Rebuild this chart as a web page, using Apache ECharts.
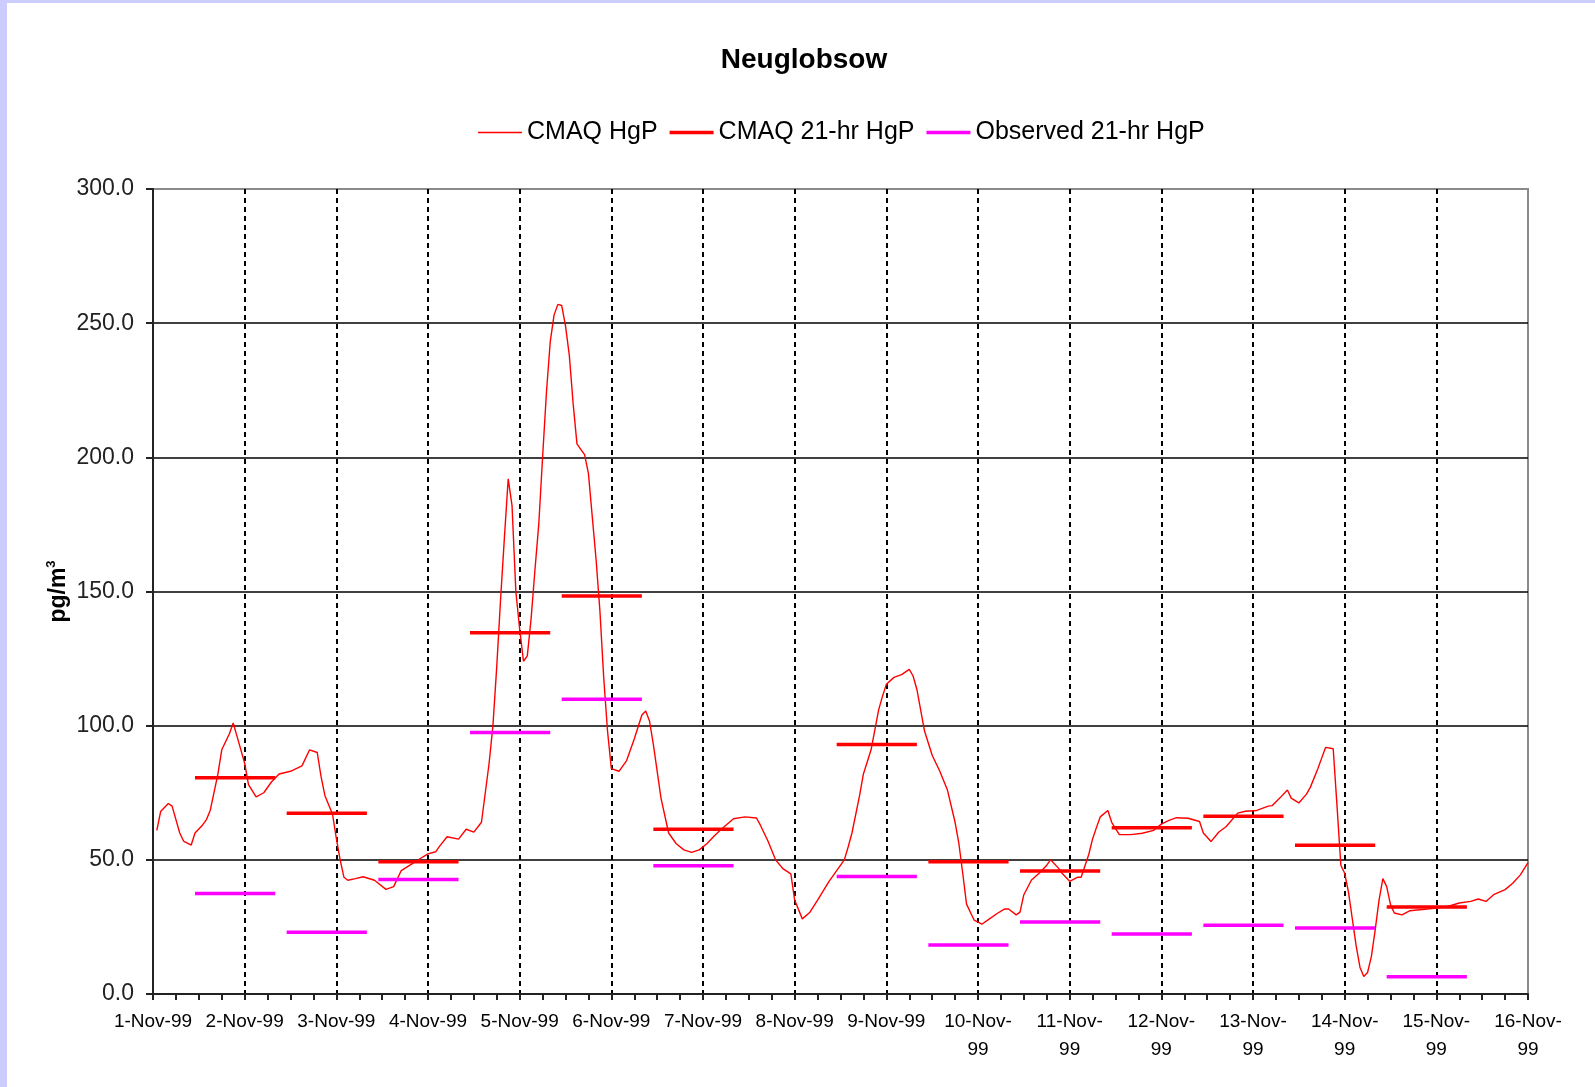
<!DOCTYPE html>
<html>
<head>
<meta charset="utf-8">
<script src="https://cdn.jsdelivr.net/npm/echarts@6/dist/echarts.min.js"></script>
<style>
	html, body { margin: 0; padding: 0; background: #fff; }
	#chart { width: 1595px; height: 1087px; }
</style>
</head>
<body>
<div id="chart"></div>
<script>
// x axis: hours from 1-Nov-99 00:00, one label per day
var dayLabels = ['1-Nov-99', '2-Nov-99', '3-Nov-99', '4-Nov-99', '5-Nov-99', '6-Nov-99', '7-Nov-99', '8-Nov-99',
	'9-Nov-99', '10-Nov-99', '11-Nov-99', '12-Nov-99', '13-Nov-99', '14-Nov-99', '15-Nov-99', '16-Nov-99'];

// CMAQ HgP, hourly model output
var cmaqHours = [1, 2, 4, 5, 7, 8, 10, 11, 13, 14, 15, 17, 18, 20, 21, 22, 24, 25, 27, 29, 31, 33, 36, 39, 41, 43,
	44, 45, 47, 48, 49, 50, 51, 53, 55, 58, 61, 63, 65, 68, 70, 72, 74, 75, 77, 80, 82, 84, 86, 87, 88, 89, 90, 91,
	92, 93, 94, 95, 96, 97, 98, 99, 100, 101, 102, 103, 104, 105, 106, 107, 108, 109, 110, 111, 112, 113, 114, 115,
	116, 117, 118, 119, 120, 122, 124, 126, 128, 129, 130, 131, 133, 135, 137, 139, 141, 143, 145, 147, 149, 152,
	155, 158, 159, 161, 163, 165, 167, 168, 170, 172, 174, 177, 179, 181, 182, 183, 185, 186, 188, 190, 191, 192,
	194, 196, 198, 199, 200, 202, 204, 206, 208, 210, 211, 212, 213, 215, 217, 219, 221, 223, 224, 226, 227, 228,
	230, 232, 234, 235, 237, 238, 240, 242, 243, 245, 246, 247, 248, 250, 251, 253, 256, 259, 262, 264, 266, 268,
	271, 274, 275, 277, 279, 281, 284, 286, 289, 292, 293, 295, 297, 298, 300, 302, 303, 305, 306, 307, 309, 310,
	311, 312, 313, 314, 315, 316, 317, 318, 319, 320, 321, 322, 323, 324, 325, 327, 329, 333, 336, 339, 342, 345,
	347, 349, 351, 354, 356, 358, 360];
var cmaqHgP = [61, 68, 71, 70, 60, 57, 55.5, 60, 63, 65, 68.5, 82, 91, 97, 101, 96, 86, 78, 73.5, 75, 79, 82, 83, 85,
	91, 90, 81, 74, 67, 58, 50, 43.5, 42.4, 43, 43.7, 42.4, 39, 40, 46, 48.7, 50.5, 52.2, 53, 55, 58.6, 57.7, 61.4,
	60.3, 64, 75, 86, 100, 122, 147, 170, 192, 182, 150, 136, 124, 126, 140, 158, 175, 200, 224, 243, 253, 257,
	256.6, 249, 238, 220, 205, 203, 201, 194, 178, 162, 143, 118, 98, 84, 83, 87, 95, 104, 105.5, 101.7, 93, 73, 60,
	56, 53.7, 52.8, 53.7, 56, 59, 61.7, 65.3, 66, 65.6, 63, 57, 50, 46.6, 44.8, 35, 28, 30.5, 35, 42, 46, 50, 54.8,
	60, 74, 82, 91, 106, 111, 115.4, 118, 119, 121, 118.5, 113.5, 98, 89, 83, 76, 64, 56, 45, 33.5, 27.5, 26, 28, 30,
	31.7, 31.7, 29.5, 30.5, 37, 42.5, 45, 48, 50, 47, 45, 42, 43.5, 43.5, 52, 57.8, 62, 66, 68.4, 64, 59.4, 59.4,
	59.9, 61, 63.3, 64.7, 65.7, 65.5, 64.3, 60, 56.8, 60.3, 62.4, 67.4, 68.1, 68.4, 70, 70.2, 73, 76, 73, 71.2, 74.5,
	77, 84, 88, 91.9, 91.4, 70, 48, 45, 38, 28, 18, 10, 6.5, 8, 14, 24, 35, 43, 40, 33.3, 30.2, 29.5, 31, 31.6, 32,
	32.6, 33.9, 34.5, 35.4, 34.5, 37, 38.9, 41.3, 44.4, 49];

// 21-hr sampling periods: start hour of each, and the averages
var periodStart = [11, 35, 59, 83, 107, 131, 179, 203, 227, 251, 275, 299, 323];
var periodLength = 21;
var cmaq21hr = [80.6, 67.4, 49.3, 134.6, 148.3, 61.4, 93.0, 49.3, 45.8, 62.0, 66.2, 55.4, 32.4];
var observed21hr = [37.5, 23.0, 42.7, 97.5, 109.8, 47.8, 43.8, 18.3, 26.8, 22.4, 25.6, 24.6, 6.4];

var FONT = "'Liberation Sans', Arial, sans-serif";
var THIN_ICON = 'path://M0,0H44V1.4H0Z';
var THICK_ICON = 'path://M0,0H44V3.5H0Z';

function hourlyData(hours, values) {
	var out = [];
	for (var i = 0; i < hours.length; i++) {
		out.push([hours[i], values[i]]);
	}
	return out;
}

// each period as a flat segment, broken apart with '-'
function periodData(starts, values) {
	var out = [];
	for (var i = 0; i < starts.length; i++) {
		out.push([starts[i], values[i]]);
		out.push([starts[i] + periodLength, values[i]]);
		out.push([starts[i] + periodLength, '-']);
	}
	return out;
}

function dayLabel(v) {
	var txt = dayLabels[Math.round(v / 24)] || '';
	if (txt.length > 8) {
		return txt.replace('Nov-', 'Nov-\n');
	}
	return txt;
}

var myChart = echarts.init(document.getElementById('chart'));
myChart.setOption({
	backgroundColor: '#fff',
	animation: false,
	graphic: [{
			type: 'rect',
			shape: { x: 0, y: 0, width: 7, height: 1087 },
			style: { fill: '#ccccff' }
		},
		{
			type: 'rect',
			shape: { x: 0, y: 0, width: 1595, height: 3 },
			style: { fill: '#ccccff' }
		}
	],
	title: {
		text: 'Neuglobsow',
		left: 804,
		top: 46,
		padding: 0,
		textAlign: 'center',
		textStyle: {
			fontFamily: FONT,
			fontSize: 28,
			fontWeight: 'bold',
			color: '#000'
		}
	},
	legend: {
		top: 120,
		left: 478,
		padding: 0,
		itemGap: 12,
		itemWidth: 44,
		itemHeight: 14,
		textStyle: {
			fontFamily: FONT,
			fontSize: 25,
			color: '#000'
		},
		data: [
			{ name: 'CMAQ HgP', icon: THIN_ICON },
			{ name: 'CMAQ 21-hr HgP', icon: THICK_ICON },
			{ name: 'Observed 21-hr HgP', icon: THICK_ICON }
		]
	},
	grid: {
		left: 153,
		right: 67,
		top: 189,
		bottom: 93,
		show: true,
		borderColor: '#8a8a8a',
		borderWidth: 2,
		backgroundColor: 'transparent'
	},
	xAxis: {
		type: 'value',
		min: 0,
		max: 360,
		interval: 24,
		axisLine: {
			show: true,
			onZero: false,
			lineStyle: { color: '#222', width: 2 }
		},
		axisTick: {
			show: true,
			length: 6,
			lineStyle: { color: '#222', width: 2 }
		},
		minorTick: {
			show: true,
			splitNumber: 4,
			length: 6,
			lineStyle: { color: '#222', width: 2 }
		},
		splitLine: {
			show: true,
			showMinLine: false,
			showMaxLine: false,
			lineStyle: { color: '#000', width: 2, type: [5, 4] }
		},
		axisLabel: {
			fontFamily: FONT,
			fontSize: 19,
			color: '#000',
			margin: 14,
			lineHeight: 28,
			showMaxLabel: true,
			formatter: dayLabel
		}
	},
	yAxis: {
		type: 'value',
		min: 0,
		max: 300,
		interval: 50,
		name: '{b|pg/m}{s|3}',
		nameLocation: 'middle',
		nameRotate: 90,
		nameGap: 80,
		nameMoveOverlap: false,
		nameTextStyle: {
			rich: {
				b: { fontFamily: FONT, fontSize: 23, fontWeight: 'bold', color: '#000', lineHeight: 28 },
				s: { fontFamily: FONT, fontSize: 13, fontWeight: 'bold', color: '#000', verticalAlign: 'top', lineHeight: 28 }
			}
		},
		axisLine: {
			show: true,
			lineStyle: { color: '#222', width: 2 }
		},
		axisTick: {
			show: true,
			length: 7,
			lineStyle: { color: '#222', width: 2 }
		},
		splitLine: {
			show: true,
			showMinLine: false,
			showMaxLine: false,
			lineStyle: { color: '#000', width: 1.5 }
		},
		axisLabel: {
			fontFamily: FONT,
			fontSize: 23,
			color: '#222',
			margin: 19,
			formatter: function (v) {
				return v.toFixed(1);
			}
		}
	},
	series: [{
			name: 'CMAQ HgP',
			type: 'line',
			showSymbol: false,
			symbol: 'none',
			color: '#ff0000',
			lineStyle: { color: '#ff0000', width: 1.4 },
			data: hourlyData(cmaqHours, cmaqHgP),
			z: 3
		},
		{
			name: 'CMAQ 21-hr HgP',
			type: 'line',
			showSymbol: false,
			symbol: 'none',
			connectNulls: false,
			color: '#ff0000',
			lineStyle: { color: '#ff0000', width: 3.5 },
			data: periodData(periodStart, cmaq21hr),
			z: 4
		},
		{
			name: 'Observed 21-hr HgP',
			type: 'line',
			showSymbol: false,
			symbol: 'none',
			connectNulls: false,
			color: '#ff00ff',
			lineStyle: { color: '#ff00ff', width: 3.5 },
			data: periodData(periodStart, observed21hr),
			z: 4
		}
	]
});
</script>
</body>
</html>
